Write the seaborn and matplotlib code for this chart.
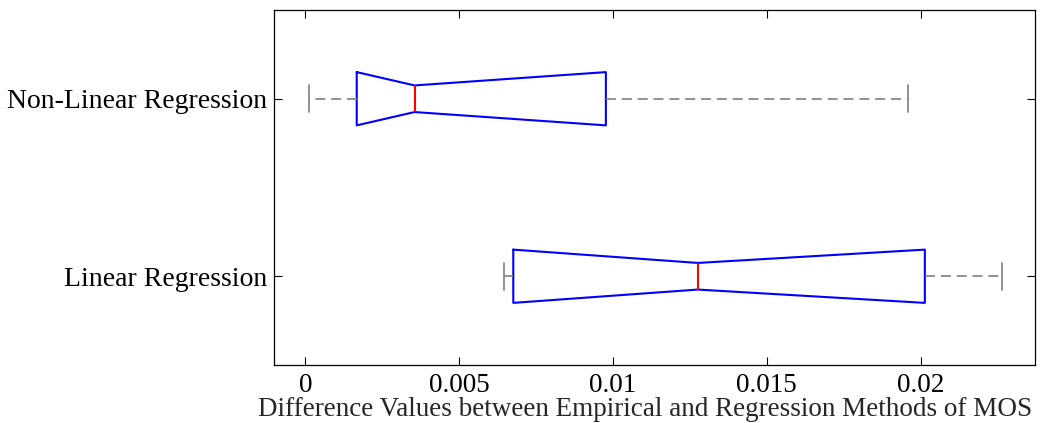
import matplotlib
matplotlib.use("Agg")
import matplotlib.pyplot as plt
import seaborn as sns
import pandas as pd

categories = ["Non-Linear Regression", "Linear Regression"]
nonlinear_values = [0.00012, 0.00167, 0.00355, 0.00977, 0.01959]
linear_values = [0.00646, 0.00676, 0.01276, 0.02014, 0.02265]
xtick_values = [0, 0.005, 0.01, 0.015, 0.02]
xtick_labels = ["0", "0.005", "0.01", "0.015", "0.02"]
xlabel = "Difference Values between Empirical and Regression Methods of MOS"

df = pd.DataFrame({
    "method": [categories[0]] * len(nonlinear_values) + [categories[1]] * len(linear_values),
    "value": nonlinear_values + linear_values,
})

sns.set_style("white")
plt.rcParams["font.family"] = ["Liberation Serif", "DejaVu Serif"]

fig = plt.figure(figsize=(10.64, 4.23), dpi=100)
ax = fig.add_axes([0.2575, 0.1371, 0.9727 - 0.2575, 0.9764 - 0.1371])

sns.boxplot(
    data=df, x="value", y="method", order=categories, orient="h",
    width=0.3, fill=False, notch=True, whis=1.5, showfliers=False,
    boxprops=dict(color="#0000ff", linewidth=1.5),
    medianprops=dict(color="#ff0000", linewidth=1.5),
    whiskerprops=dict(color="#7f7f7f", linewidth=1.2, linestyle=(0, (6, 3.5))),
    capprops=dict(color="#7f7f7f", linewidth=1.2),
    ax=ax,
)

# clamp notch to the quartiles (MATLAB-style notch drawing)
for ln in ax.lines:
    xd = list(ln.get_xdata())
    if len(xd) == 11:
        q1, q3 = xd[0], xd[5]
        xd[2] = q1
        xd[9] = q1
        xd[4] = q3
        xd[7] = q3
        ln.set_xdata(xd)

ax.set_xlim(-0.00102, 0.02372)
ax.set_ylim(1.5, -0.5)
ax.set_xticks(xtick_values)
ax.set_xticklabels(xtick_labels)
ax.set_xlabel(xlabel, fontsize=19.5, va="baseline")
ax.xaxis.set_label_coords(0.4875, -0.143)
ax.set_ylabel("")
ax.tick_params(axis="both", which="both", direction="in", length=5.5, width=0.8,
               top=True, right=True, bottom=True, left=True,
               colors="black")
ax.tick_params(axis="x", labelsize=19.5, pad=6)
ax.tick_params(axis="y", labelsize=20, pad=5)
for s in ax.spines.values():
    s.set_visible(True)
    s.set_color("black")
    s.set_linewidth(0.9)
ax.grid(False)

fig.savefig("out.png", dpi=100, facecolor="white")
